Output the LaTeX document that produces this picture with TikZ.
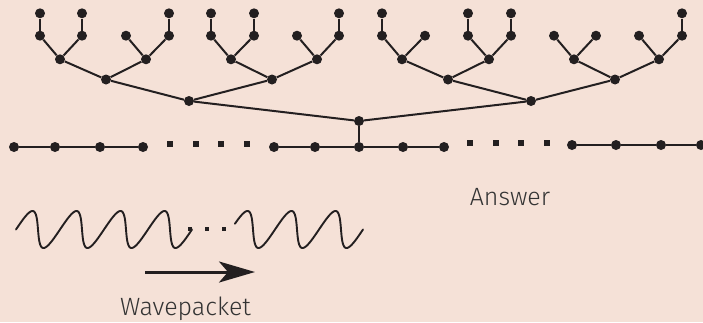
\documentclass[tikz,border=0pt]{standalone}
\usepackage{fontspec}
\setmainfont{Fira Sans}[UprightFont=* Light]
\usetikzlibrary{arrows.meta}
\definecolor{bg}{HTML}{F5E1D7}
\definecolor{ink}{HTML}{231F20}
\definecolor{txt}{HTML}{333333}
\begin{document}
\begin{tikzpicture}[x=1pt,y=-1pt,
  blob/.style={circle,fill=ink,inner sep=0pt,minimum size=10pt},
  sq/.style={rectangle,fill=ink,inner sep=0pt,minimum size=6pt},
  smallsq/.style={rectangle,fill=ink,inner sep=0pt,minimum size=3.3pt},
  link/.style={draw=ink,line width=2pt},
  wavy/.style={draw=ink,line width=1.9pt,line join=round,line cap=round},
  lbl/.style={text=txt,font=\fontsize{25}{25}\selectfont,anchor=base,inner sep=0pt}]
\fill[bg] (0,0) rectangle (703,322);
\useasboundingbox (0,0) rectangle (703,322);
% level 2
\foreach \x [count=\i] in {40,82,126,169,211,254,297,339,382,425,468,511,554,596,639,682}
  \node[blob] (b\i) at (\x,35.7) {};
% top leaves
\foreach \i in {1,2,4,5,6,8,9,11,12,16} {
  \node[blob] (a\i) at (b\i |- 0,13.3) {};
  \draw[link] (a\i) -- (b\i);
}
% level 3
\foreach \x [count=\i] in {60,146,231,317,402,489,574,659}
  \node[blob] (c\i) at (\x,59.3) {};
\foreach \i in {1,...,8} {
  \pgfmathtruncatemacro\lft{2*\i-1}
  \pgfmathtruncatemacro\rgt{2*\i}
  \draw[link] (c\i) -- (b\lft) (c\i) -- (b\rgt);
}
% level 4
\foreach \x [count=\i] in {106,272,448,615}
  \node[blob] (d\i) at (\x,79.5) {};
\foreach \i in {1,...,4} {
  \pgfmathtruncatemacro\lft{2*\i-1}
  \pgfmathtruncatemacro\rgt{2*\i}
  \draw[link] (d\i) -- (c\lft) (d\i) -- (c\rgt);
}
% level 5
\node[blob] (e1) at (189,101) {};
\node[blob] (e2) at (531,101) {};
\draw[link] (e1) -- (d1) (e1) -- (d2) (e2) -- (d3) (e2) -- (d4);
% junction
\node[blob] (f) at (359,121) {};
\draw[link] (f) -- (e1) (f) -- (e2);
% bottom line
\foreach \x [count=\i] in {14,55,100,143}
  \node[blob] (p\i) at (\x,147) {};
\foreach \x [count=\i] in {274,315,359,403,444}
  \node[blob] (q\i) at (\x,147) {};
\foreach \x [count=\i] in {572,616,661,701}
  \node[blob] (r\i) at (\x,145) {};
\coordinate (rend) at (706,145);
\draw[link] (p1) -- (p2) -- (p3) -- (p4);
\draw[link] (q1) -- (q2) -- (q3) -- (q4) -- (q5);
\draw[link] (r1) -- (r2) -- (r3) -- (r4) -- (rend);
\draw[link] (f) -- (q3);
\foreach \x [count=\i] in {170,196,221,247}
  \node[sq] (s\i) at (\x,144) {};
\foreach \x [count=\i] in {470,496,521,547}
  \node[sq] (t\i) at (\x,143) {};
% wavepacket
\draw[wavy] plot[domain=-90:1350,samples=240,variable=\t,smooth]
  ({27+0.122222*\t+5.5*cos(\t)},{229.5-18.5*cos(\t)});
\draw[wavy] plot[domain=-72:990,samples=180,variable=\t,smooth]
  ({242+0.122222*\t+5.5*cos(\t)},{229.5-18.5*cos(\t)});
\foreach \x [count=\i] in {190,207,224}
  \node[smallsq] (w\i) at (\x,229) {};
\coordinate (arrS) at (145,272);
\coordinate (arrE) at (255,272);
\draw[draw=ink,line width=3pt,-{Stealth[length=36pt,width=21pt,inset=9pt]}] (arrS) -- (arrE);
% labels
\node[lbl] (ans) at (510,205.5) {Answer};
\node[lbl] (wp) at (185.5,315.5) {Wavepacket};
\end{tikzpicture}
\end{document}
